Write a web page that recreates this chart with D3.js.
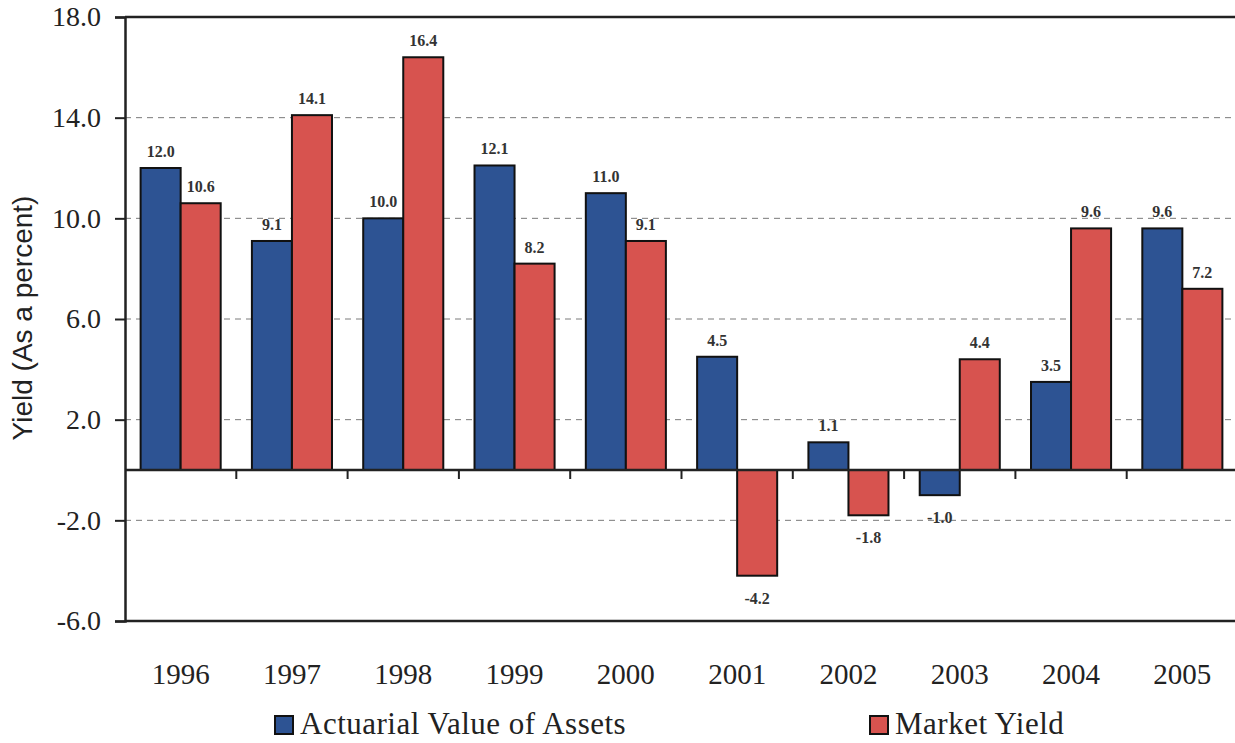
<!DOCTYPE html>
<html>
<head>
<meta charset="utf-8">
<script src="https://cdn.jsdelivr.net/npm/d3@7/dist/d3.min.js"></script>
<style>
  html, body { margin: 0; padding: 0; background: #fff; }
  svg { display: block; }
</style>
</head>
<body>
<svg id="chart" width="1235" height="743"></svg>
<script>
const years = ["1996","1997","1998","1999","2000","2001","2002","2003","2004","2005"];
const seriesNames = ["Actuarial Value of Assets", "Market Yield"];
const actuarial = [12.0, 9.1, 10.0, 12.1, 11.0, 4.5, 1.1, -1.0, 3.5, 9.6];
const market = [10.6, 14.1, 16.4, 8.2, 9.1, -4.2, -1.8, 4.4, 9.6, 7.2];
const yTicks = [-6, -2, 2, 6, 10, 14, 18];
const colors = ["#2d5393", "#d7534f"];

(function () {
const svg = d3.select("#chart");
const mLeft = 125, mRight = 1238, mTop = 17, mBottom = 621;

const fmt = d3.formatLocale({ decimal: ".", thousands: ",", grouping: [3], currency: ["", ""], minus: "-" }).format(".1f");

const x0 = d3.scaleBand().domain(years).range([mLeft, mRight]).padding(0);
const x1 = d3.scaleBand().domain(seriesNames).range([0, x0.bandwidth()]).paddingInner(0).paddingOuter(0.39);
const y = d3.scaleLinear().domain([-6, 18]).range([mBottom, mTop]);

const serif = "'Liberation Serif','Times New Roman',serif";
const sans = "'Liberation Sans',Arial,sans-serif";

// gridlines
svg.append("g").selectAll("line")
  .data(yTicks.filter(t => t > -6 && t < 18))
  .join("line")
  .attr("x1", mLeft).attr("x2", 1235)
  .attr("y1", d => y(d)).attr("y2", d => y(d))
  .attr("stroke", "#7a7a7a").attr("stroke-width", 1)
  .attr("stroke-dasharray", "6,5");

const rows = years.map((yr, i) => ({ year: yr, values: [actuarial[i], market[i]] }));

const groups = svg.append("g").selectAll("g")
  .data(rows).join("g")
  .attr("transform", d => `translate(${x0(d.year)},0)`);

groups.selectAll("rect")
  .data(d => d.values.map((v, j) => ({ name: seriesNames[j], v, j })))
  .join("rect")
  .attr("x", d => x1(d.name))
  .attr("width", x1.bandwidth())
  .attr("y", d => y(Math.max(0, d.v)))
  .attr("height", d => Math.abs(y(d.v) - y(0)))
  .attr("fill", d => colors[d.j])
  .attr("stroke", "#111").attr("stroke-width", 2);

groups.selectAll("text")
  .data(d => d.values.map((v, j) => ({ name: seriesNames[j], v, j })))
  .join("text")
  .attr("x", d => x1(d.name) + x1.bandwidth() / 2)
  .attr("y", d => d.v >= 0 ? y(d.v) - 11 : y(d.v) + 28)
  .attr("text-anchor", "middle")
  .attr("font-family", serif).attr("font-size", 16).attr("font-weight", "bold")
  .attr("fill", "#333")
  .text(d => fmt(d.v));

// frame lines
svg.append("line").attr("x1", mLeft).attr("x2", 1235).attr("y1", mTop).attr("y2", mTop)
  .attr("stroke", "#222").attr("stroke-width", 2.5);
svg.append("line").attr("x1", mLeft).attr("x2", 1235).attr("y1", mBottom).attr("y2", mBottom)
  .attr("stroke", "#222").attr("stroke-width", 2.5);

// y axis
const yAxis = d3.axisLeft(y).tickValues(yTicks).tickFormat(fmt).tickSize(10).tickPadding(14);
const gy = svg.append("g").attr("transform", `translate(${mLeft},0)`).call(yAxis);
gy.select(".domain").attr("stroke", "#222").attr("stroke-width", 2.5);
gy.selectAll(".tick line").attr("stroke", "#222").attr("stroke-width", 2);
gy.selectAll(".tick text").attr("font-family", serif).attr("font-size", 28).attr("fill", "#222");

// zero axis with category ticks
const gx = svg.append("g").attr("transform", `translate(0,${y(0)})`);
gx.append("line").attr("x1", mLeft).attr("x2", 1235).attr("y1", 0).attr("y2", 0)
  .attr("stroke", "#222").attr("stroke-width", 2.5);
gx.selectAll("line.tk").data(years.slice(1)).join("line").attr("class", "tk")
  .attr("x1", d => x0(d)).attr("x2", d => x0(d))
  .attr("y1", 0).attr("y2", 9)
  .attr("stroke", "#222").attr("stroke-width", 2);

// x labels
svg.append("g").selectAll("text").data(years).join("text")
  .attr("x", d => x0(d) + x0.bandwidth() / 2)
  .attr("y", 684)
  .attr("text-anchor", "middle")
  .attr("font-family", serif).attr("font-size", 29).attr("fill", "#222")
  .text(d => d);

// y title
svg.append("text")
  .attr("transform", "translate(32,318) rotate(-90)")
  .attr("text-anchor", "middle")
  .attr("font-family", sans).attr("font-size", 28).attr("fill", "#222")
  .text("Yield (As a percent)");

// legend
const legendX = [275, 870];
const lg = svg.append("g").selectAll("g").data(seriesNames).join("g")
  .attr("transform", (d, i) => `translate(${legendX[i]},716)`);
lg.append("rect").attr("width", 18).attr("height", 18)
  .attr("fill", (d, i) => colors[i]).attr("stroke", "#111").attr("stroke-width", 2);
lg.append("text").attr("x", 25).attr("y", 18)
  .attr("font-family", serif).attr("font-size", 31).attr("fill", "#222")
  .attr("letter-spacing", 0.5)
  .text(d => d);
})();
</script>
</body>
</html>
